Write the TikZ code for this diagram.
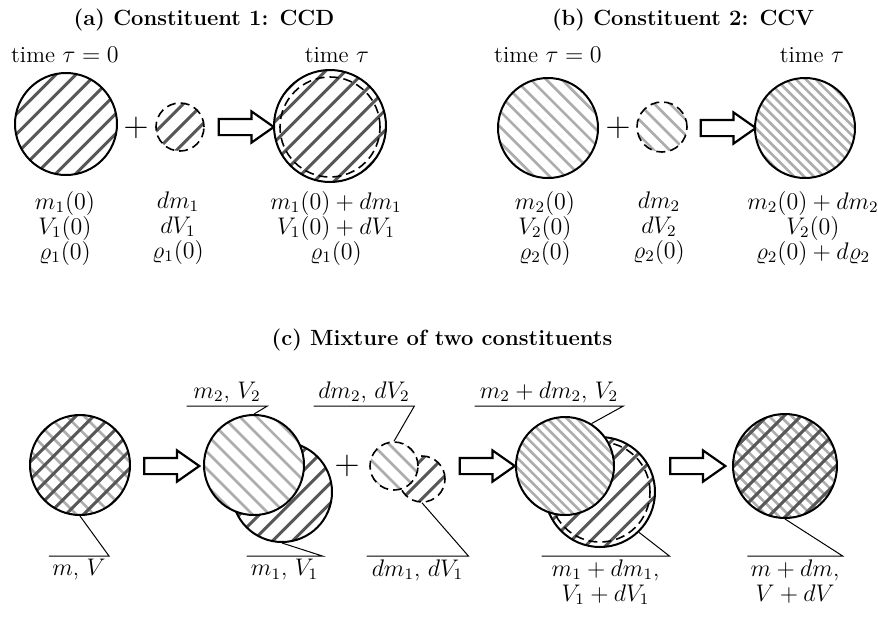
\documentclass[tikz,border=0pt]{standalone}
\usepackage{amsmath}
\usetikzlibrary{shapes.arrows}
\colorlet{darkhatch}{black!66}
\colorlet{lighthatch}{black!32}

% diagonal hatch lines clipped by the path picture (#1=1: /, #1=-1: \)
\newcommand{\hatchlines}[3]{%
  \begin{scope}[shift={(path picture bounding box.center)}]
    \foreach \k in {-12,...,12}
      \draw[solid,#3] (\k*#2*1.4142-80,80*#1) -- (\k*#2*1.4142+80,-80*#1);
  \end{scope}}

\begin{document}
\begin{tikzpicture}[x=0.5pt,y=-0.5pt,
    font=\fontsize{11.5}{12.5}\selectfont,
    ring/.style={circle,draw,line width=1pt,inner sep=0pt,fill=white,minimum size=#1pt},
    dring/.style={ring=#1,line width=0.8pt,dash pattern=on 4.5pt off 2.5pt},
    dk/.style={path picture={\hatchlines{1}{#1}{line width=1.5pt,darkhatch}}},
    lt/.style={path picture={\hatchlines{-1}{#1}{line width=1.3pt,lighthatch}}},
    cross/.style 2 args={path picture={\hatchlines{-1}{#2}{line width=1.3pt,lighthatch}%
      \hatchlines{1}{#1}{line width=1.5pt,darkhatch}}},
    harrow/.style={single arrow,draw,line width=1.1pt,fill=white,minimum height=27.5pt,
      inner xsep=0pt,inner ysep=3.5pt,single arrow head extend=3.75pt,single arrow tip angle=70},
    plus/.style={font=\fontsize{17}{17}\selectfont,inner sep=0pt},
    ttl/.style={font=\fontsize{11}{13}\selectfont\bfseries},
    qty/.style={align=center},
    lbl/.style={inner sep=1.5pt},
    lead/.style={line width=0.5pt}
  ]
  \useasboundingbox (0,0) rectangle (878,617);

  % (a) constituent 1
  \node[ttl] (ttla) at (204,20) {(a) Constituent 1: CCD};
  \node (ta0) at (65,55) {time $\tau=0$};
  \node (ta1) at (337,55) {time $\tau$};
  \node[ring=51,dk=14] (a0) at (66,124) {};
  \node[plus] (pa) at (136,128) {$+$};
  \node[dring=24,dk=14] (ad) at (180,127) {};
  \node[harrow] (ara) at (240.5,127) {};
  \node[ring=56,dk=14] (a1) at (330,126) {};
  \node[dring=50,fill=none] (a1in) at (330,127) {};
  \node[qty] (qa0) at (65,228) {$m_1(0)$\\$V_1(0)$\\$\varrho_1(0)$};
  \node[qty] (qad) at (178,228) {$dm_1$\\$dV_1$\\$\varrho_1(0)$};
  \node[qty] (qa1) at (336,228) {$m_1(0)+dm_1$\\$V_1(0)+dV_1$\\$\varrho_1(0)$};

  % (b) constituent 2
  \node[ttl] (ttlb) at (683,20) {(b) Constituent 2: CCV};
  \node (tb0) at (548,55) {time $\tau=0$};
  \node (tb1) at (812,55) {time $\tau$};
  \node[ring=50,lt=11] (b0) at (548,128) {};
  \node[plus] (pb) at (618,128) {$+$};
  \node[dring=25,lt=11] (bd) at (662,127) {};
  \node[harrow] (arb) at (722.5,128) {};
  \node[ring=50,lt=7] (b1) at (805,128) {};
  \node[qty] (qb0) at (545,228) {$m_2(0)$\\$V_2(0)$\\$\varrho_2(0)$};
  \node[qty] (qbd) at (659,228) {$dm_2$\\$dV_2$\\$\varrho_2(0)$};
  \node[qty] (qb1) at (813,228) {$m_2(0)+dm_2$\\$V_2(0)$\\$\varrho_2(0)+d\varrho_2$};

  % (c) mixture
  \node[ttl] (ttlc) at (442,340) {(c) Mixture of two constituents};
  \node[ring=50,cross={12.5}{12.5}] (c0) at (80,465) {};
  \node[harrow] (arc1) at (166,466) {};
  \node[ring=50,dk=14] (c1l) at (282,492) {};
  \node[ring=50,lt=12] (c1u) at (254,465) {};
  \node[plus] (pc) at (347,466) {$+$};
  \node[dring=23,dk=14] (cdl) at (422,479) {};
  \node[dring=24,lt=12] (cdu) at (394,466) {};
  \node[harrow] (arc2) at (481.5,466) {};
  \node[ring=55,dk=14] (c2l) at (600,492) {};
  \node[dring=50,fill=none] (c2in) at (600,492) {};
  \node[ring=49,lt=7] (c2u) at (565,466) {};
  \node[harrow] (arc3) at (692,466) {};
  \node[ring=52,cross={12}{8}] (c3) at (785,466) {};

  \node[lbl,anchor=north,minimum width=27pt] (lmv) at (79,556) {$m$, $V$};
  \draw[lead] (c0.south) -- (lmv.north east) -- (lmv.north west);
  \node[lbl,anchor=south,minimum width=40pt] (lm2) at (227,406) {$m_2$, $V_2$};
  \draw[lead] (c1u.north) -- (lm2.south east) -- (lm2.south west);
  \node[lbl,anchor=north,minimum width=37.5pt] (lm1) at (284.5,556) {$m_1$, $V_1$};
  \draw[lead] (c1l.south) -- (lm1.north east) -- (lm1.north west);
  \node[lbl,anchor=south,minimum width=50pt] (ldm2) at (364,406) {$dm_2$, $dV_2$};
  \draw[lead] (cdu.north) -- (ldm2.south east) -- (ldm2.south west);
  \node[lbl,anchor=north,minimum width=50.5pt] (ldm1) at (417.5,556) {$dm_1$, $dV_1$};
  \draw[lead] (cdl.south) -- (ldm1.north east) -- (ldm1.north west);
  \node[lbl,anchor=south,minimum width=74pt] (lm2d) at (549,406) {$m_2+dm_2$, $V_2$};
  \draw[lead] (c2u.58) -- (lm2d.south east) -- (lm2d.south west);
  \node[lbl,qty,anchor=north,minimum width=63.5pt] (lm1d) at (605.5,556) {$m_1+dm_1$,\\$V_1+dV_1$};
  \draw[lead] (c2l.-46) -- (lm1d.north east) -- (lm1d.north west);
  \node[lbl,qty,anchor=north,minimum width=42pt] (lmd) at (795,556) {$m+dm$,\\$V+dV$};
  \draw[lead] (c3.south) -- (lmd.north east) -- (lmd.north west);
\end{tikzpicture}
\end{document}
